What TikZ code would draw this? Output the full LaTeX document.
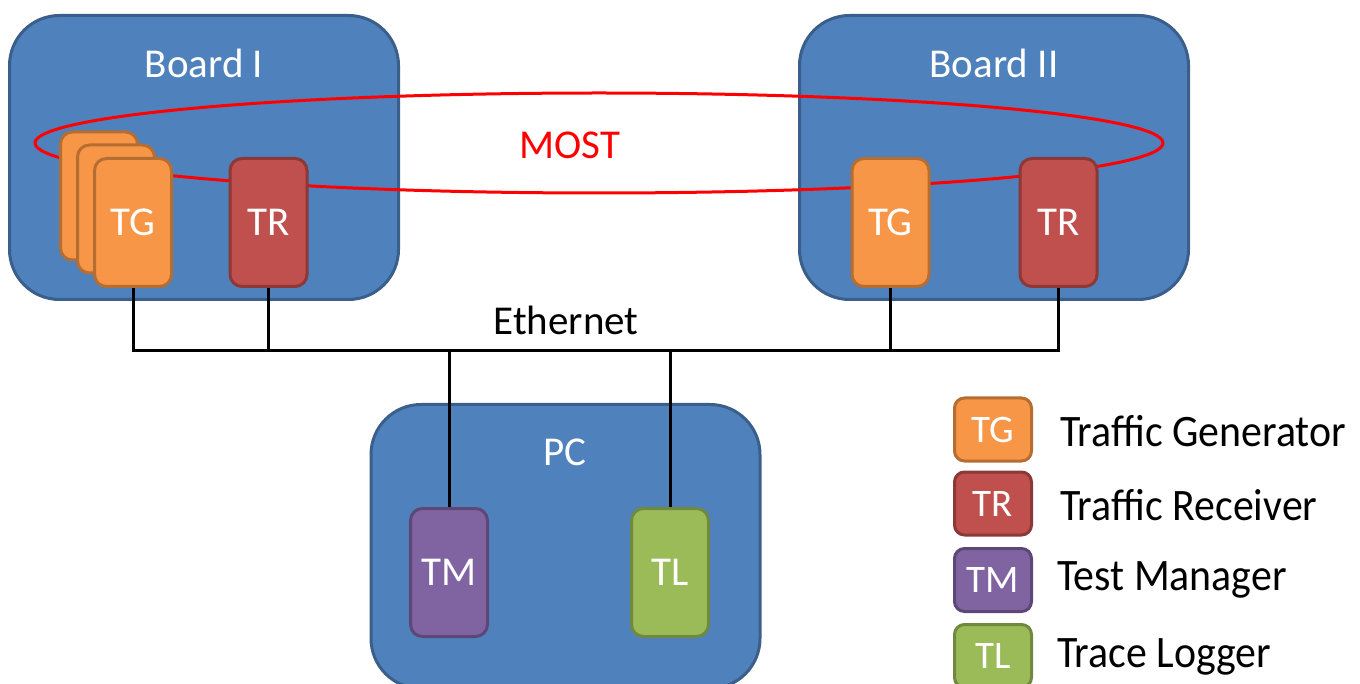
\documentclass[tikz,border=0pt]{standalone}
\usepackage{fontspec}
\setmainfont{Carlito}
\newfontfamily\legendfont[FakeStretch=0.93]{Carlito}
\definecolor{boardfill}{HTML}{4F81BD}
\definecolor{boardline}{HTML}{3A5F8B}
\definecolor{tgfill}{HTML}{F79646}
\definecolor{tgline}{HTML}{B66D31}
\definecolor{trfill}{HTML}{C0504D}
\definecolor{trline}{HTML}{8C3836}
\definecolor{tmfill}{HTML}{8064A2}
\definecolor{tmline}{HTML}{5C4776}
\definecolor{tlfill}{HTML}{9BBB59}
\definecolor{tlline}{HTML}{71893F}
\begin{document}
\begin{tikzpicture}[x=1pt,y=-1pt,
  board/.style={draw=boardline,fill=boardfill,line width=3pt,rounded corners=50pt,
    minimum width=389pt,minimum height=284pt,inner sep=0pt},
  blabel/.style={text=white,font=\fontsize{41}{45}\selectfont,inner sep=0pt},
  card/.style={line width=3pt,rounded corners=12pt,minimum width=77pt,minimum height=128pt,
    inner sep=0pt,text=white,font=\fontsize{41}{45}\selectfont},
  lcard/.style={line width=3pt,rounded corners=10pt,minimum width=77pt,minimum height=63pt,
    inner sep=0pt,text=white,font=\fontsize{39}{42}\selectfont},
  tg/.style={draw=tgline,fill=tgfill},
  tr/.style={draw=trline,fill=trfill},
  tm/.style={draw=tmline,fill=tmfill},
  tl/.style={draw=tlline,fill=tlfill},
  ltext/.style={anchor=west,inner sep=0pt,font=\legendfont\fontsize{45}{50}\selectfont},
  wire/.style={line width=3pt,black}]
\useasboundingbox (0,0) rectangle (1360,684);
\clip (0,0) rectangle (1360,684);
% boards
\node[board] (b1) at (204,157.5) {};
\node[board] (b2) at (994,157.5) {};
\node[board] (pc) at (565.5,546.5) {};
\node[blabel] (b1l) at (204,63) {Board I};
\node[blabel] (b2l) at (994,63) {Board II};
\node[blabel] (pcl) at (565,452) {PC};
% MOST ring
\draw[red,line width=3pt] (599,143) ellipse [x radius=564, y radius=50];
\node[blabel,text=red] (most) at (570,145) {MOST};
% cards
\node[card,tg] (tg1c) at (99,196) {};
\node[card,tg] (tg1b) at (116,209) {};
\node[card,tg] (tg1) at (133,222.5) {TG};
\node[card,tr] (tr1) at (268.5,222.5) {TR};
\node[card,tg] (tg2) at (890.5,222.5) {TG};
\node[card,tr] (tr2) at (1058.5,222.5) {TR};
\node[card,tm] (tm) at (449,572.5) {TM};
\node[card,tl] (tl) at (670,572.5) {TL};
% ethernet
\coordinate (e1) at (133,351);
\coordinate (e2) at (268.5,351);
\coordinate (e3) at (890.5,351);
\coordinate (e4) at (1058.5,351);
\coordinate (e5) at (449,351);
\coordinate (e6) at (670,351);
\draw[wire] (tg1.south) -- (e1) -- (e4) -- (tr2.south);
\draw[wire] (tr1.south) -- (e2);
\draw[wire] (tg2.south) -- (e3);
\draw[wire] (e5) -- (tm.north);
\draw[wire] (e6) -- (tl.north);
\node[blabel,text=black] (eth) at (566,320) {Ethernet};
% legend
\node[lcard,tg] (ltg) at (993,429.5) {TG};
\node[lcard,tr] (ltr) at (993,503.5) {TR};
\node[lcard,tm] (ltm) at (993,580) {TM};
\node[lcard,tl] (ltl) at (993,656) {TL};
\node[ltext] (ttg) at (1060,431) {Traffic Generator};
\node[ltext] (ttr) at (1060,505) {Traffic Receiver};
\node[ltext] (ttm) at (1057,580) {Test Manager};
\node[ltext] (ttl) at (1057,657) {Trace Logger};
\end{tikzpicture}
\end{document}
